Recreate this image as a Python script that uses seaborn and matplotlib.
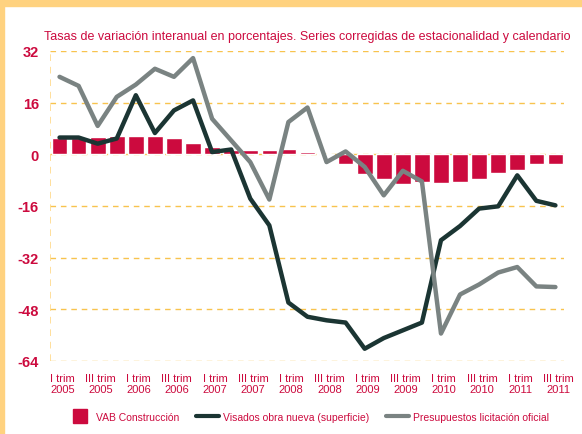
import numpy as np
import pandas as pd
import seaborn as sns
import matplotlib.pyplot as plt
from matplotlib.patches import Rectangle
from matplotlib.lines import Line2D

# quarterly data, I trim 2005 .. III trim 2011
quarters = [f"{q} trim {y}" for y in range(2005, 2012) for q in ["I", "II", "III", "IV"]][:27]
vab = [5.2, 5.2, 5.3, 5.8, 5.8, 5.8, 5.0, 3.6, 2.4, 1.45, 1.45, 1.45, 1.7, 0.6,
       -0.3, -3.1, -6.2, -7.7, -9.1, -8.6, -8.9, -8.7, -7.7, -5.9, -4.7, -3.1, -2.9]
visados = [5.2, 5.2, 3.3, 4.9, 18.3, 6.6, 13.6, 16.7, 0.7, 1.5, -13.7, -22.0, -45.9, -50.3,
           -51.4, -52.1, -60.2, -56.9, -54.5, -52.1, -26.6, -22.2, -16.8, -16.1, -6.5, -14.4, -15.8]
licitacion = [24.0, 21.2, 8.8, 17.8, 21.6, 26.5, 24.0, 29.8, 11.0, 4.3, -2.4, -14.0, 10.0, 14.5,
              -2.4, 0.9, -3.9, -12.7, -5.1, -8.4, -55.5, -43.4, -40.3, -36.6, -34.9, -40.9, -41.1]
yticks = [-64, -48, -32, -16, 0, 16, 32]
xlabels = [f"{q} trim\n{y}" for y in range(2005, 2012) for q in ["I", "III"]]

df = pd.DataFrame({"trim": quarters, "vab": vab, "visados": visados,
                   "licitacion": licitacion, "pos": np.arange(len(quarters))})

red = "#CC0A3E"
dark = "#1B3533"
grey = "#7A8382"
grid = "#F8C34E"

sns.set_style("white")
plt.rcParams["font.family"] = ["Liberation Sans", "DejaVu Sans"]

fig = plt.figure(figsize=(5.82, 4.35), dpi=100)
# orange frame strips
fig.patches.append(Rectangle((0, 1 - 7 / 435), 1, 7 / 435, transform=fig.transFigure,
                             color="#FFD27F", zorder=0))
fig.patches.append(Rectangle((0, 0), 4 / 582, 1, transform=fig.transFigure,
                             color="#FFD27F", zorder=0))

ax = fig.add_axes([50 / 582, 1 - 362 / 435, 514 / 582, 310 / 435])

sns.barplot(data=df, x="trim", y="vab", order=quarters, color=red, width=0.82,
            saturation=1, ax=ax, zorder=2)
sns.lineplot(data=df, x="pos", y="visados", color=dark, linewidth=3.2, ax=ax, zorder=3)
sns.lineplot(data=df, x="pos", y="licitacion", color=grey, linewidth=3.2, ax=ax, zorder=4)

for t in yticks:
    ax.axhline(t, color=grid, linestyle=(0, (4, 3.5)), linewidth=1, zorder=1)
ax.axvline(-0.5, color="#FFD98A", linestyle=(0, (4, 3.5)), linewidth=1.2, zorder=1)

ax.set_xlim(-0.5, 26.45)
ax.set_ylim(-64, 32)
ax.set_yticks(yticks)
ax.set_yticklabels([str(t) for t in yticks], color=red, fontsize=10.5, fontweight="bold")
ax.set_xticks(np.arange(0, 27, 2) + 0.15)
ax.set_xticklabels(xlabels, color=red, fontsize=8, linespacing=1.05)
ax.tick_params(axis="y", length=0, pad=8)
ax.tick_params(axis="x", length=0, pad=9)
ax.set_xlabel("")
ax.set_ylabel("")
for s in ax.spines.values():
    s.set_visible(False)

fig.text(44 / 582, 1 - 37 / 435, "Tasas de variación interanual en porcentajes. Series corregidas de estacionalidad y calendario",
         color=red, fontsize=9.0, va="center", ha="left")

handles = [
    Line2D([], [], marker="s", linestyle="none", markersize=10, color=red),
    Line2D([], [], color=dark, linewidth=3),
    Line2D([], [], color=grey, linewidth=3),
]
labels = ["VAB Construcción", "Visados obra nueva (superficie)", "Presupuestos licitación oficial"]
leg = fig.legend(handles, labels, loc="center", bbox_to_anchor=(0.531, 1 - 418 / 435), ncol=3,
                 frameon=False, fontsize=7.5, handlelength=2.2, columnspacing=1.6, handletextpad=0.4)
for t in leg.get_texts():
    t.set_color(red)

fig.savefig("out.png", dpi=100)
